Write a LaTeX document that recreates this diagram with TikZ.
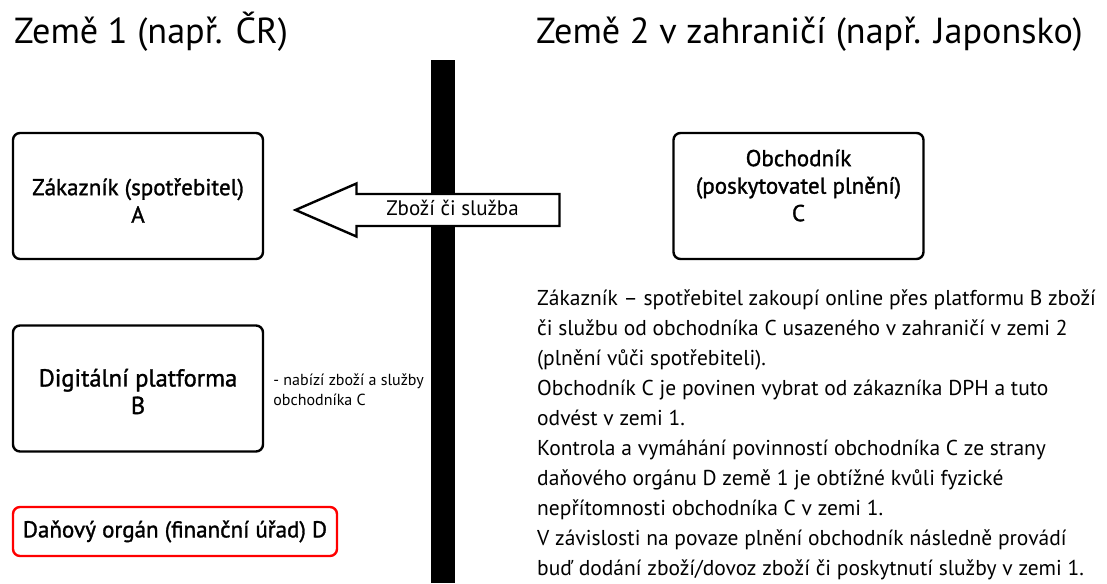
\documentclass[tikz,border=0pt]{standalone}
\usepackage{fontspec}
\setmainfont{PT Sans}
\newfontfamily\boxfont[FakeBold=1.3]{PT Sans}
\usetikzlibrary{shapes.arrows,positioning}

\begin{document}
\begin{tikzpicture}[
    x=1pt, y=-1pt,
    frame/.style={rectangle, draw, line width=2.4pt, rounded corners=7pt, minimum width=250pt, minimum height=126pt, inner sep=0pt},
    taxframe/.style={frame, draw=red, minimum width=324pt, minimum height=49pt},
    boxtext/.style={align=center, font=\boxfont\fontsize{23}{27.5}\selectfont, inner sep=0pt},
    heading/.style={anchor=base west, font=\fontsize{36.2}{40}\selectfont, inner sep=0pt},
    note/.style={align=left, anchor=north west, font=\fontsize{16}{20}\selectfont, inner sep=0pt},
    story/.style={align=left, anchor=north west, font=\fontsize{21.5}{29.9}\selectfont, inner sep=0pt},
    flow/.style={single arrow, draw, fill=white, line width=2.4pt, inner sep=14.8pt, single arrow head extend=10.5pt, single arrow tip angle=47, minimum height=264pt, shape border rotate=180, anchor=tip},
    flowtext/.style={anchor=base, font=\fontsize{21}{25}\selectfont, inner sep=0pt}
]
    \useasboundingbox (0,0) rectangle (1107,583);

    % Headings
    \node [heading] (land1) at (14,43.3) {Země 1 (např. ČR)};
    \node [heading] (land2) at (536,43.3) {Země 2 v zahraničí (např. Japonsko)};

    % Border
    \fill (431,60) rectangle (455,583);

    % Boxes
    \node [frame] (customer) at (138,196) {};
    \node [frame] (merchant) at (798.5,196) {};
    \node [frame] (platform) at (138,388.5) {};
    \node [taxframe] (taxoffice) at (175,531.5) {};

    \node [boxtext] (customertext) at ([yshift=-4.5pt]customer.center) {Zákazník (spotřebitel)\\A};
    \node [boxtext] (merchanttext) at ([yshift=10.5pt]merchant.center) {Obchodník\\(poskytovatel plnění)\\C};
    \node [boxtext, font=\boxfont\fontsize{24.5}{27.5}\selectfont] (platformtext) at ([yshift=-3pt]platform.center) {Digitální platforma\\B};
    \node [boxtext] (taxtext) at (taxoffice.center) {Daňový orgán (finanční úřad) D};

    % Goods flow
    \node [flow] (goods) at (292.5,210) {};
    \node [flowtext] (goodstext) at (452.5,215) {Zboží či služba};

    % Notes
    \node [note, right=9pt of platform.east, yshift=-1pt, anchor=west] (platformnote) {- nabízí zboží a služby\\obchodníka C};
    \node [story] (summary) at (537,290) {Zákazník – spotřebitel zakoupí online přes platformu B zboží\\
        či službu od obchodníka C usazeného v zahraničí v zemi 2\\
        (plnění vůči spotřebiteli).\\
        Obchodník C je povinen vybrat od zákazníka DPH a tuto\\
        odvést v zemi 1.\\
        Kontrola a vymáhání povinností obchodníka C ze strany\\
        daňového orgánu D země 1 je obtížné kvůli fyzické\\
        nepřítomnosti obchodníka C v zemi 1.\\
        V závislosti na povaze plnění obchodník následně provádí\\
        buď dodání zboží/dovoz zboží či poskytnutí služby v zemi 1.};
\end{tikzpicture}
\end{document}
